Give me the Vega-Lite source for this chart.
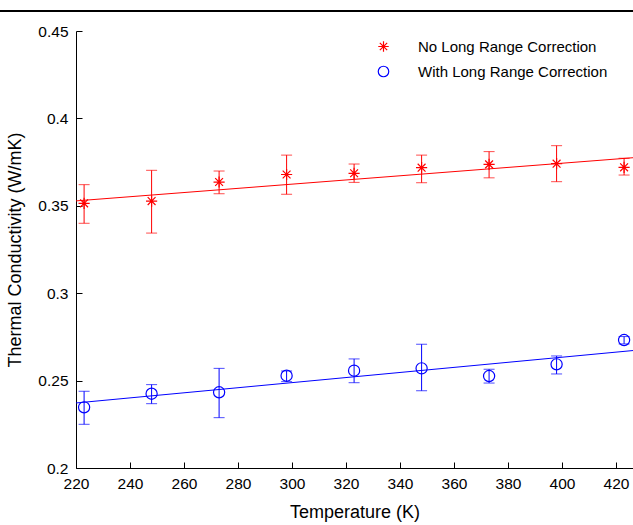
{
  "$schema": "https://vega.github.io/schema/vega-lite/v6.json",
  "width": 557,
  "height": 437,
  "autosize": {"type": "none"},
  "padding": {"left": 76, "top": 31, "right": 0, "bottom": 57},
  "background": "white",
  "config": {
    "view": {"stroke": null},
    "font": "Liberation Sans",
    "axis": {
      "domainColor": "black",
      "tickColor": "black",
      "labelColor": "black",
      "titleColor": "black",
      "labelFont": "Liberation Sans",
      "titleFont": "Liberation Sans",
      "labelFontSize": 15.5,
      "titleFontSize": 18,
      "titleFontWeight": "normal",
      "tickSize": -6,
      "labelPadding": 14,
      "labelFlush": false,
      "grid": false
    },
    "legend": {
      "labelFont": "Liberation Sans",
      "labelFontSize": 15,
      "labelColor": "black",
      "labelLimit": 400
    }
  },
  "datasets": {
    "pts": [
      {"T": 223, "k": 0.3514, "lo": 0.3400, "hi": 0.3621, "series": "No Long Range Correction"},
      {"T": 248, "k": 0.3527, "lo": 0.3344, "hi": 0.3703, "series": "No Long Range Correction"},
      {"T": 273, "k": 0.3636, "lo": 0.3569, "hi": 0.3699, "series": "No Long Range Correction"},
      {"T": 298, "k": 0.3679, "lo": 0.3566, "hi": 0.3790, "series": "No Long Range Correction"},
      {"T": 323, "k": 0.3686, "lo": 0.3634, "hi": 0.3739, "series": "No Long Range Correction"},
      {"T": 348, "k": 0.3718, "lo": 0.3632, "hi": 0.3790, "series": "No Long Range Correction"},
      {"T": 373, "k": 0.3737, "lo": 0.3660, "hi": 0.3810, "series": "No Long Range Correction"},
      {"T": 398, "k": 0.3741, "lo": 0.3638, "hi": 0.3844, "series": "No Long Range Correction"},
      {"T": 423, "k": 0.3720, "lo": 0.3676, "hi": 0.3772, "series": "No Long Range Correction"},
      {"T": 223, "k": 0.2347, "lo": 0.2250, "hi": 0.2439, "series": "With Long Range Correction"},
      {"T": 248, "k": 0.2425, "lo": 0.2368, "hi": 0.2477, "series": "With Long Range Correction"},
      {"T": 273, "k": 0.2433, "lo": 0.2288, "hi": 0.2570, "series": "With Long Range Correction"},
      {"T": 298, "k": 0.2528, "lo": 0.2494, "hi": 0.2555, "series": "With Long Range Correction"},
      {"T": 323, "k": 0.2557, "lo": 0.2488, "hi": 0.2624, "series": "With Long Range Correction"},
      {"T": 348, "k": 0.2570, "lo": 0.2442, "hi": 0.2708, "series": "With Long Range Correction"},
      {"T": 373, "k": 0.2526, "lo": 0.2486, "hi": 0.2565, "series": "With Long Range Correction"},
      {"T": 398, "k": 0.2593, "lo": 0.2538, "hi": 0.2641, "series": "With Long Range Correction"},
      {"T": 423, "k": 0.2732, "lo": 0.2710, "hi": 0.2752, "series": "With Long Range Correction"}
    ],
    "fits": [
      {"T": 220, "k": 0.3528, "series": "No Long Range Correction"},
      {"T": 426.3, "k": 0.3775, "series": "No Long Range Correction"},
      {"T": 220, "k": 0.2372, "series": "With Long Range Correction"},
      {"T": 426.3, "k": 0.2672, "series": "With Long Range Correction"}
    ]
  },
  "layer": [
    {
      "data": {"values": [{}]},
      "mark": {"type": "rule", "color": "black", "strokeWidth": 2},
      "encoding": {
        "x": {"datum": 190, "type": "quantitative", "scale": {"domain": [220, 426.3], "nice": false, "zero": false}},
        "x2": {"datum": 430},
        "y": {"datum": 0.4614, "type": "quantitative", "scale": {"domain": [0.2, 0.45], "nice": false, "zero": false}}
      }
    },
    {
      "data": {"name": "fits"},
      "mark": {"type": "line", "strokeWidth": 1},
      "encoding": {
        "x": {"field": "T", "type": "quantitative", "scale": {"domain": [220, 426.3], "nice": false, "zero": false},
          "axis": {"values": [220, 240, 260, 280, 300, 320, 340, 360, 380, 400, 420], "title": "Temperature (K)", "titlePadding": 12}},
        "y": {"field": "k", "type": "quantitative", "scale": {"domain": [0.2, 0.45], "nice": false, "zero": false},
          "axis": {"values": [0.2, 0.25, 0.3, 0.35, 0.4, 0.45], "format": "~g", "title": "Thermal Conductivity (W/mK)", "titlePadding": 13}},
        "detail": {"field": "series"},
        "color": {"condition": {"test": "datum.series === 'No Long Range Correction'", "value": "#ff0000"}, "value": "#0000ff"}
      }
    },
    {
      "data": {"name": "pts"},
      "mark": {"type": "rule", "strokeWidth": 1},
      "encoding": {
        "x": {"field": "T", "type": "quantitative"},
        "y": {"field": "lo", "type": "quantitative"},
        "y2": {"field": "hi"},
        "color": {"condition": {"test": "datum.series === 'No Long Range Correction'", "value": "#ff0000"}, "value": "#0000ff"}
      }
    },
    {
      "data": {"name": "pts"},
      "mark": {"type": "tick", "orient": "horizontal", "size": 11, "thickness": 1},
      "encoding": {
        "x": {"field": "T", "type": "quantitative"},
        "y": {"field": "lo", "type": "quantitative"},
        "color": {"condition": {"test": "datum.series === 'No Long Range Correction'", "value": "#ff0000"}, "value": "#0000ff"}
      }
    },
    {
      "data": {"name": "pts"},
      "mark": {"type": "tick", "orient": "horizontal", "size": 11, "thickness": 1},
      "encoding": {
        "x": {"field": "T", "type": "quantitative"},
        "y": {"field": "hi", "type": "quantitative"},
        "color": {"condition": {"test": "datum.series === 'No Long Range Correction'", "value": "#ff0000"}, "value": "#0000ff"}
      }
    },
    {
      "data": {"name": "pts"},
      "mark": {"type": "point", "filled": false, "size": 125, "strokeWidth": 1.2, "opacity": 1},
      "encoding": {
        "x": {"field": "T", "type": "quantitative"},
        "y": {"field": "k", "type": "quantitative"},
        "color": {"field": "series", "type": "nominal",
          "scale": {"domain": ["No Long Range Correction", "With Long Range Correction"], "range": ["#ff0000", "#0000ff"]},
          "legend": {"title": null, "orient": "none", "legendX": 300, "legendY": 8, "labelOffset": 27, "rowPadding": 8, "symbolStrokeWidth": 1.2, "symbolSize": 110}},
        "shape": {"field": "series", "type": "nominal",
          "scale": {"domain": ["No Long Range Correction", "With Long Range Correction"], "range": ["M0,-1L0,1M-1,0L1,0M-0.7,-0.7L0.7,0.7M-0.7,0.7L0.7,-0.7", "circle"]},
          "legend": {"title": null, "orient": "none", "legendX": 300, "legendY": 8, "labelOffset": 27, "rowPadding": 8, "symbolStrokeWidth": 1.2, "symbolSize": 110}}
      }
    }
  ]
}
